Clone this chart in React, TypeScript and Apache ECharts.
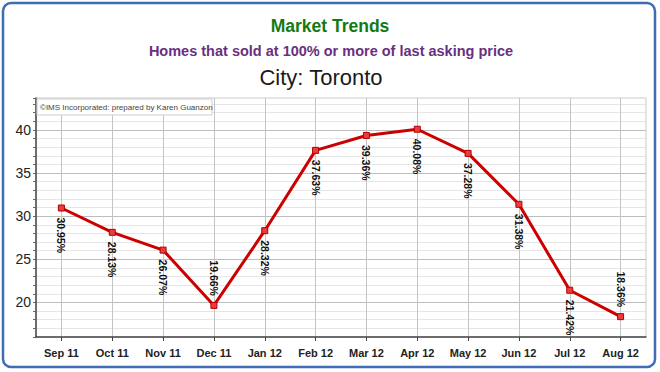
import React, { useEffect, useRef } from "react";
import * as echarts from "echarts";

const categories = ["Sep 11", "Oct 11", "Nov 11", "Dec 11", "Jan 12", "Feb 12", "Mar 12", "Apr 12", "May 12", "Jun 12", "Jul 12", "Aug 12"];
const values = [30.95, 28.13, 26.07, 19.66, 28.32, 37.63, 39.36, 40.08, 37.28, 31.38, 21.42, 18.36];
const labelAbove = ["Dec 11", "Aug 12"];
const yMajorStep = 5;

const FONT = "'Liberation Sans', Arial, sans-serif";

export default function App() {
  const ref = useRef<HTMLDivElement>(null);
  useEffect(() => {
    if (!ref.current) return;
    const chart = echarts.init(ref.current, undefined, { renderer: "svg" });
    const data = values.map((v, i) => {
      const above = labelAbove.includes(categories[i]);
      return {
        value: v,
        label: above
          ? { position: "top", align: "right", verticalAlign: "middle", distance: 6 }
          : { position: "bottom", align: "left", verticalAlign: "middle", distance: 6 },
      };
    });
    chart.setOption({
      animation: false,
      backgroundColor: "#ffffff",
      textStyle: { fontFamily: FONT },
      grid: { left: 36, right: 14, top: 98, bottom: 35, show: true, borderColor: "#c8c8c8", borderWidth: 1, backgroundColor: "#ffffff" },
      xAxis: {
        type: "category",
        data: categories,
        boundaryGap: true,
        axisLine: { lineStyle: { color: "#444", width: 1.5 } },
        axisTick: { show: true, alignWithLabel: true, length: 4, lineStyle: { color: "#444" } },
        axisLabel: { color: "#222", fontSize: 11, fontWeight: "bold", margin: 10, fontFamily: FONT },
        splitLine: { show: true, alignWithLabel: true, lineStyle: { color: "#c4c4c4", width: 1 } },
      },
      yAxis: {
        type: "value",
        min: 16,
        max: 43.7,
        interval: 1,
        axisLine: { show: true, lineStyle: { color: "#444", width: 1.5 } },
        axisTick: { show: true, length: 3, lineStyle: { color: "#666" } },
        axisLabel: {
          color: "#222",
          fontSize: 14,
          margin: 5,
          fontFamily: FONT,
          formatter: (v: number) => (Math.abs(v % yMajorStep) < 1e-6 ? String(v) : ""),
        },
        splitLine: {
          show: true,
          lineStyle: { color: ["#e6e6e6", "#e6e6e6", "#e6e6e6", "#e6e6e6", "#bdbdbd"], width: 1 },
        },
      },
      series: [
        {
          type: "line",
          data,
          symbol: "rect",
          symbolSize: 6,
          itemStyle: { color: "#ee3a3a", borderColor: "#b00000", borderWidth: 1 },
          lineStyle: { color: "#cc0000", width: 3 },
          label: {
            show: true,
            rotate: -90,
            fontSize: 10.5,
            fontWeight: "bold",
            color: "#111",
            fontFamily: FONT,
            formatter: (p: any) => p.value.toFixed(2) + "%",
          },
          z: 5,
        },
      ],
      graphic: [
        {
          type: "rect",
          shape: { x: 3, y: 3, width: 652, height: 364, r: 8 },
          style: { fill: "none", stroke: "#3e6db5", lineWidth: 2.5 },
          z: 100,
        },
        {
          type: "text",
          x: 330,
          y: 26,
          style: { text: "Market Trends", fill: "#137a13", font: `bold 17.5px ${FONT}`, textAlign: "center", textVerticalAlign: "middle" },
        },
        {
          type: "text",
          x: 331,
          y: 51,
          style: { text: "Homes that sold at 100% or more of last asking price", fill: "#6a2f80", font: `bold 14.5px ${FONT}`, textAlign: "center", textVerticalAlign: "middle" },
        },
        {
          type: "text",
          x: 321,
          y: 77,
          style: { text: "City: Toronto", fill: "#1a1a1a", font: `22px ${FONT}`, textAlign: "center", textVerticalAlign: "middle" },
        },
        {
          type: "rect",
          shape: { x: 37, y: 99, width: 175, height: 16 },
          style: { fill: "#ffffff", stroke: "#cfcfcf", lineWidth: 1 },
          z: 10,
        },
        {
          type: "text",
          x: 40,
          y: 107,
          style: { text: "©IMS Incorporated: prepared by Karen Guanzon", fill: "#444", font: `8px ${FONT}`, textVerticalAlign: "middle" },
          z: 11,
        },
      ],
    });
    return () => chart.dispose();
  }, []);
  return <div ref={ref} style={{ position: "fixed", left: 0, top: 0, width: 660, height: 372 }} />;
}
